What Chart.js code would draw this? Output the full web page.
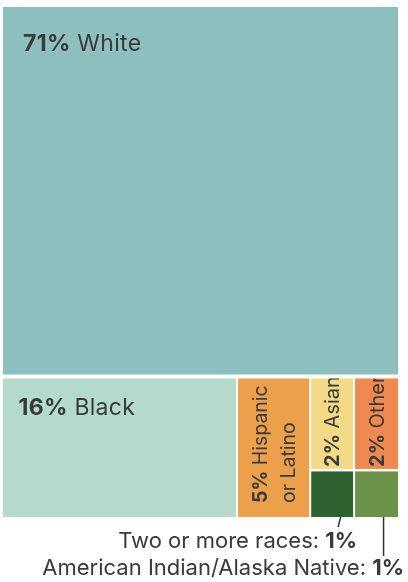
<!DOCTYPE html>
<html>
<head>
<meta charset="utf-8">
<script src="https://cdn.jsdelivr.net/npm/chart.js@4.4.1/dist/chart.umd.min.js"></script>
<style>
  html, body { margin: 0; padding: 0; background: #ffffff; }
  #wrap { width: 408px; height: 582px; position: relative; }
</style>
</head>
<body>
<div id="wrap"><canvas id="chart"></canvas></div>
<script>
// Population share by race / ethnicity (percent)
const categories = ['White', 'Black', 'Hispanic or Latino', 'Asian', 'Other',
                    'Two or more races', 'American Indian/Alaska Native'];
const shares = [71, 16, 5, 2, 2, 1, 1];
// How each category name is broken into lines inside its tile
const nameLines = [['White'], ['Black'], ['Hispanic', 'or Latino'], ['Asian'], ['Other'],
                   ['Two or more races'], ['American Indian/Alaska Native']];

const tileColors = ['#8dbfbe', '#b3dacb', '#eda04b', '#f3da86', '#ef8950', '#2e6231', '#6b9249'];
const textColor = '#3a3a3a';
const FONT = 'Inter, "Open Sans", sans-serif';

// Nesting of the tiles: 'v' stacks children top to bottom, 'h' places them left to right.
const tree = {
  split: 'v', gap: 4, children: [
    0,
    { split: 'h', gap: 2, children: [
      1, 2,
      { split: 'v', gap: 2.5, children: [
        { split: 'h', gap: 2, children: [3, 4] },
        { split: 'h', gap: 2, children: [5, 6] }
      ]}
    ]}
  ]
};

function weight(node) {
  return typeof node === 'number' ? shares[node] : node.children.reduce((s, c) => s + weight(c), 0);
}

// Recursive slice layout in data units (0..1 on both axes)
function layout(node, x0, y0, x1, y1, inset, out) {
  if (typeof node === 'number') { out[node] = { x0, y0, x1, y1, inset }; return; }
  const total = weight(node);
  const n = node.children.length;
  let pos = node.split === 'h' ? x0 : y0;
  node.children.forEach((child, i) => {
    const f = weight(child) / total;
    const ins = Object.assign({}, inset);
    if (node.split === 'h') {
      const next = pos + (x1 - x0) * f;
      if (i > 0) ins.l = node.gap / 2;
      if (i < n - 1) ins.r = node.gap / 2;
      layout(child, pos, y0, next, y1, ins, out);
      pos = next;
    } else {
      const next = pos + (y1 - y0) * f;
      if (i > 0) ins.t = node.gap / 2;
      if (i < n - 1) ins.b = node.gap / 2;
      layout(child, x0, pos, x1, next, ins, out);
      pos = next;
    }
  });
}

function setFont(ctx, p) {
  ctx.font = (p.bold ? '700 ' : '400 ') + p.size + 'px ' + FONT;
  ctx.letterSpacing = (p.spacing || 0) + 'px';
}
function drawRich(ctx, parts, x, y) {
  // parts: [{text, bold, size}], drawn left-aligned from x on baseline y
  let cx = x;
  parts.forEach(p => {
    setFont(ctx, p);
    ctx.fillText(p.text, cx, y);
    cx += ctx.measureText(p.text).width;
  });
  ctx.letterSpacing = '0px';
  return cx - x;
}
function measureRich(ctx, parts) {
  let w = 0;
  parts.forEach(p => { setFont(ctx, p); w += ctx.measureText(p.text).width; });
  ctx.letterSpacing = '0px';
  return w;
}

const treemapPlugin = {
  id: 'treemapTiles',
  afterDatasetsDraw(chart) {
    const ctx = chart.ctx;
    const xs = chart.scales.x, ys = chart.scales.y;
    const rects = [];
    layout(tree, 0, 0, 1, 1, { l: 0, r: 0, t: 0, b: 0 }, rects);

    const px = rects.map(r => {
      const ins = r.inset;
      const left = xs.getPixelForValue(r.x0) + ins.l;
      const right = xs.getPixelForValue(r.x1) - ins.r;
      const top = ys.getPixelForValue(r.y0) + ins.t;
      const bottom = ys.getPixelForValue(r.y1) - ins.b;
      return { left, right, top, bottom, cx: (left + right) / 2 };
    });

    ctx.save();
    px.forEach((p, i) => {
      ctx.fillStyle = tileColors[i];
      ctx.fillRect(p.left, p.top, p.right - p.left, p.bottom - p.top);
    });

    ctx.fillStyle = textColor;
    ctx.textBaseline = 'alphabetic';
    ctx.textAlign = 'left';

    // Horizontal labels in the two large tiles
    [[0, 20, 44], [1, 15.5, 37]].forEach(([i, dx, dy]) => {
      const p = px[i];
      drawRich(ctx, [
        { text: shares[i] + '%', bold: true, size: 23, spacing: 0.3 },
        { text: ' ' + nameLines[i][0], bold: false, size: 23, spacing: 0.3 }
      ], p.left + dx, p.top + dy);
    });

    // Vertical labels in the narrow tiles, clipped to the tile
    [[2, 14, 19.5], [3, 2, 20], [4, 2, 20]].forEach(([i, padBottom, size]) => {
      const p = px[i];
      const lines = nameLines[i];
      const lh = 28;
      ctx.save();
      ctx.beginPath();
      ctx.rect(p.left, p.top, p.right - p.left, p.bottom - p.top);
      ctx.clip();
      lines.forEach((ln, j) => {
        const base = p.cx + 7 + (j - (lines.length - 1) / 2) * lh;
        ctx.save();
        ctx.translate(base, p.bottom - padBottom);
        ctx.rotate(-Math.PI / 2);
        const parts = j === 0
          ? [{ text: shares[i] + '%', bold: true, size }, { text: ' ' + ln, bold: false, size }]
          : [{ text: ln, bold: false, size }];
        drawRich(ctx, parts, 0, 0);
        ctx.restore();
      });
      ctx.restore();
    });

    // Call-out labels below the two smallest tiles
    ctx.strokeStyle = '#333333';
    ctx.lineWidth = 1.5;
    const callouts = [
      { i: 5, rightOff: 4, base: 547.5, line: [[8.5, 0], [6, 10]] },
      { i: 6, rightOff: 6, base: 575, line: [[7, 0], [7, 39]] }
    ];
    callouts.forEach(c => {
      const p = px[c.i];
      ctx.beginPath();
      ctx.moveTo(p.cx + c.line[0][0], p.bottom + c.line[0][1]);
      ctx.lineTo(p.cx + c.line[1][0], p.bottom + c.line[1][1]);
      ctx.stroke();
      const parts = [
        { text: nameLines[c.i][0] + ': ', bold: false, size: 22 },
        { text: shares[c.i] + '%', bold: true, size: 22 }
      ];
      const w = measureRich(ctx, parts);
      drawRich(ctx, parts, p.right + c.rightOff - w, c.base);
    });
    ctx.restore();
  }
};

new Chart(document.getElementById('chart'), {
  type: 'scatter',
  data: { datasets: [{ label: 'Share', data: [] }] },
  options: {
    responsive: true,
    maintainAspectRatio: false,
    animation: false,
    devicePixelRatio: 1,
    layout: { padding: { left: 3, right: 10, top: 7, bottom: 65 } },
    scales: {
      x: { type: 'linear', min: 0, max: 1, display: false },
      y: { type: 'linear', min: 0, max: 1, reverse: true, display: false }
    },
    plugins: { legend: { display: false }, tooltip: { enabled: false } }
  },
  plugins: [treemapPlugin]
});
</script>
</body>
</html>
